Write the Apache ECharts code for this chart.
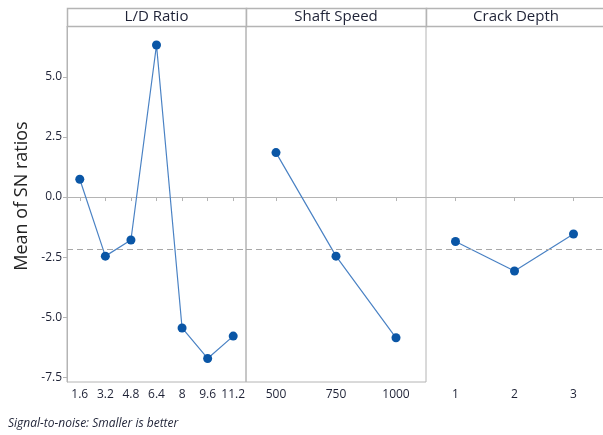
<!DOCTYPE html>
<html>
<head>
<meta charset="utf-8">
<script src="https://cdn.jsdelivr.net/npm/echarts@6/dist/echarts.min.js"></script>
<style>html,body{margin:0;padding:0;background:#fff}#c{width:603px;height:435px}</style>
</head>
<body>
<div id="c"></div>
<script>
var panelTitles = ['L/D Ratio', 'Shaft Speed', 'Crack Depth'];
var ldCategories = ['1.6', '3.2', '4.8', '6.4', '8', '9.6', '11.2'];
var ldValues = [0.74, -2.46, -1.79, 6.33, -5.45, -6.72, -5.79];
var speedCategories = ['500', '750', '1000'];
var speedValues = [1.85, -2.46, -5.86];
var depthCategories = ['1', '2', '3'];
var depthValues = [-1.85, -3.08, -1.54];
var overallMean = -2.16;
var yTickValues = [-7.5, -5, -2.5, 0, 2.5, 5];
var yTitle = 'Mean of SN ratios';
var footnote = 'Signal-to-noise: Smaller is better';

(function () {
var FONT = '"Open Sans", "Noto Sans", sans-serif';
var GRAY = '#b4b4b4';
var TXT = '#1e2236';
var panels = [
  {cats: ldCategories, vals: ldValues},
  {cats: speedCategories, vals: speedValues},
  {cats: depthCategories, vals: depthValues}
];
var lefts = [67, 246, 426];
var widths = [179, 180, 180];
var gTop = 26, gHeight = 356;

var grids = [], xAxes = [], yAxes = [], series = [], graphics = [];
panels.forEach(function (p, i) {
  grids.push({left: lefts[i], top: gTop, width: widths[i], height: gHeight,
    show: i < 2, borderColor: GRAY, borderWidth: 1, backgroundColor: 'transparent'});
  xAxes.push({type: 'category', gridIndex: i, data: p.cats, boundaryGap: true,
    axisLine: {show: true, lineStyle: {color: GRAY, width: 1}},
    axisTick: {show: true, alignWithLabel: true, interval: 0, length: 4, lineStyle: {color: GRAY}},
    axisLabel: {color: TXT, fontFamily: FONT, fontSize: 12, margin: 7, interval: 0, hideOverlap: false},
    splitLine: {show: false}});
  yAxes.push({type: 'value', gridIndex: i, min: -7.7, max: 7.12,
    axisLine: {show: i === 0, lineStyle: {color: GRAY}},
    axisTick: {show: i === 0, length: 4, lineStyle: {color: GRAY}, customValues: yTickValues},
    axisLabel: {show: i === 0, color: TXT, fontFamily: FONT, fontSize: 12, margin: 5,
      customValues: yTickValues, formatter: function (v) { return Number(v).toFixed(1); }},
    splitLine: {show: false}});
  series.push({type: 'line', xAxisIndex: i, yAxisIndex: i, data: p.vals,
    symbol: 'circle', symbolSize: 9,
    lineStyle: {color: '#4a82c4', width: 1.2},
    itemStyle: {color: '#0a56a6'},
    emphasis: {disabled: true},
    markLine: {silent: true, symbol: 'none', label: {show: false},
      lineStyle: {color: '#a8a8a8', type: [6, 4], width: 1},
      data: [{yAxis: overallMean}]}});
  graphics.push({type: 'rect', shape: {x: lefts[i] + 0.5, y: 8.5, width: widths[i] + (i === 2 ? 40 : 0), height: gTop - 8},
    style: {fill: '#fff', stroke: GRAY, lineWidth: 1.5}});
  graphics.push({type: 'text', x: lefts[i] + widths[i] / 2, y: 17,
    style: {text: panelTitles[i], fill: TXT, font: '15px ' + FONT, textAlign: 'center', textVerticalAlign: 'middle'}});
});
graphics.push({type: 'text', x: 22, y: 196, rotation: Math.PI / 2,
  style: {text: yTitle, fill: '#222', font: '18px ' + FONT, textAlign: 'center', textVerticalAlign: 'middle'}});
graphics.push({type: 'text', x: 8, y: 424,
  style: {text: footnote, fill: TXT, font: 'italic 12px ' + FONT, textAlign: 'left', textVerticalAlign: 'middle'}});

var chart = echarts.init(document.getElementById('c'), null, {renderer: 'canvas'});
chart.setOption({
  animation: false,
  backgroundColor: '#fff',
  grid: grids, xAxis: xAxes, yAxis: yAxes, series: series, graphic: graphics
});
})();
</script>
</body>
</html>
